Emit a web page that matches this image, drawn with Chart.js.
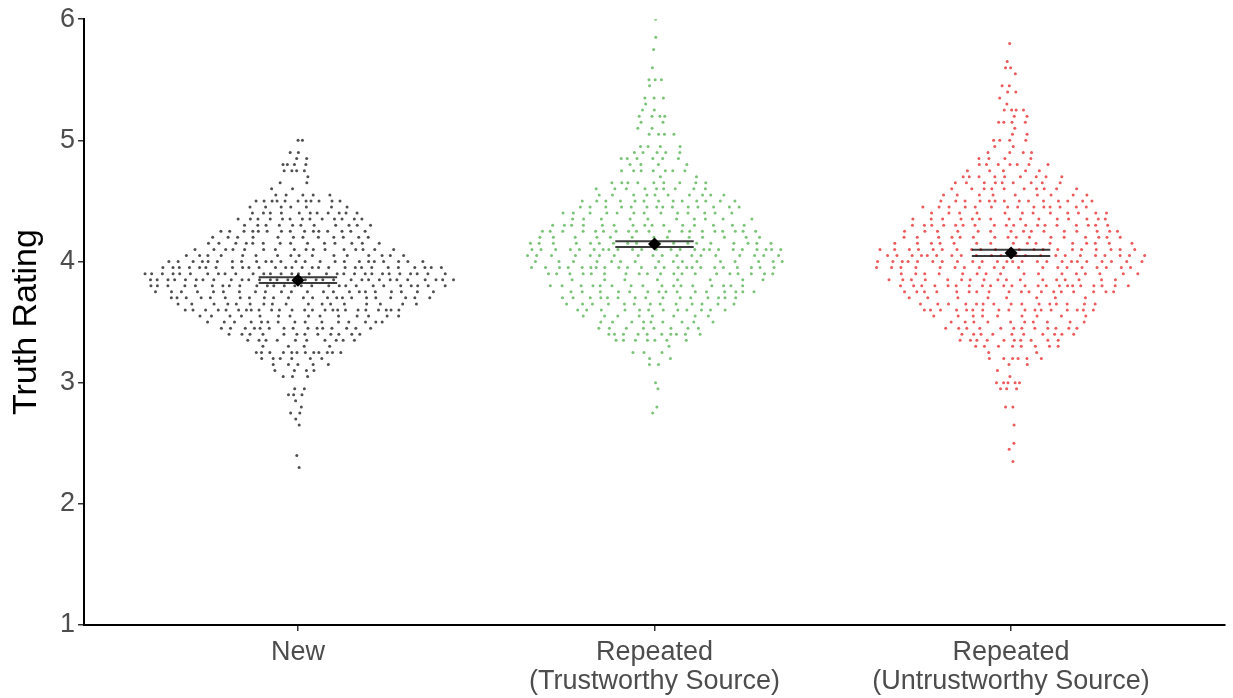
<!DOCTYPE html>
<html><head><meta charset="utf-8">
<script src="https://cdn.jsdelivr.net/npm/chart.js@4.4.1/dist/chart.umd.min.js"></script>
<style>html,body{margin:0;padding:0;background:#fff;overflow:hidden}#wrap{width:1233px;height:698px;}</style>
</head><body><div id="wrap"><canvas id="c" width="1233" height="698"></canvas></div>
<script>
// ---- data ----
const categories = [["New"], ["Repeated", "(Trustworthy Source)"], ["Repeated", "(Untrustworthy Source)"]];
const yTicks = [1, 2, 3, 4, 5, 6];
const yAxisTitle = "Truth Rating";

// discrete rating levels (rows of points), top to bottom
const ratingLevels = [6.00,5.95,5.90,5.85,5.80,5.75,5.70,5.65,5.60,5.55,5.50,5.45,5.40,5.35,5.30,5.25,5.20,5.15,5.10,5.05,
  5.00,4.95,4.90,4.85,4.80,4.75,4.70,4.65,4.60,4.55,4.50,4.45,4.40,4.35,4.30,4.25,4.20,4.15,4.10,4.05,
  4.00,3.95,3.90,3.85,3.80,3.75,3.70,3.65,3.60,3.55,3.50,3.45,3.40,3.35,3.30,3.25,3.20,3.15,3.10,3.05,
  3.00,2.95,2.90,2.85,2.80,2.75,2.70,2.65,2.60,2.55,2.50,2.45,2.40,2.35,2.30];

// number of participants at each rating level
const countsNew = [0,0,0,0,0,0,0,0,0,0,0,0,0,0,0,0,0,0,0,0,
  2,0,2,2,4,4,1,2,2,5,11,7,11,13,11,15,12,14,16,16,
  24,28,30,30,27,22,23,17,24,14,15,15,12,10,4,12,6,5,4,3,
  0,2,3,1,1,2,1,1,0,0,0,0,1,0,1];
const countsTrustworthy = [1,0,0,1,0,1,0,0,1,0,3,1,0,3,1,2,4,2,2,4,
  0,4,5,6,4,7,2,9,9,10,13,14,13,10,15,19,13,19,24,18,
  16,23,19,8,16,15,15,13,12,8,9,8,10,7,1,3,2,2,0,0,
  1,1,0,0,1,1,0,0,0,0,0,0,0,0,0];
const countsUntrustworthy = [0,0,0,0,1,0,0,1,2,1,0,2,2,1,1,4,2,4,1,2,
  4,2,4,4,7,5,9,9,10,9,14,14,12,15,18,15,16,16,21,22,
  24,19,16,17,22,18,8,15,17,9,10,12,10,10,8,2,6,2,1,1,
  5,3,0,0,2,0,0,1,0,0,1,1,0,1,0];

const groupMeans = [3.846, 4.144, 4.070];
const groupLower = [3.822, 4.120, 4.045];
const groupUpper = [3.870, 4.168, 4.097];

// ---- styling ----
const pointColors = ['rgba(20,20,20,0.75)', 'rgba(77,175,74,0.75)', 'rgba(228,26,28,0.72)'];
const FONT = '"Liberation Sans", Arial, Helvetica, sans-serif';

// sina-style layout: row half-width follows smoothed density of the counts
function smoothCounts(counts) {
  const s = 2.2;
  return counts.map((_, j) => {
    let d = 0;
    counts.forEach((c, k) => { d += c * Math.exp(-0.5 * ((j - k) / s) ** 2); });
    return d;
  });
}
const allCounts = [countsNew, countsTrustworthy, countsUntrustworthy];
const densities = allCounts.map(smoothCounts);
const groupMaxDens = densities.map(d => Math.max(...d));
const maxDens = Math.max(...groupMaxDens);
const maxHalfWidth = 0.44;
const PHI = 0.6180339887;

function swarmPoints(g) {
  const counts = allCounts[g], dens = densities[g], center = g + 1;
  const groupWidth = maxHalfWidth * Math.sqrt(groupMaxDens[g] / maxDens);
  const pts = [];
  counts.forEach((n, j) => {
    const w = groupWidth * dens[j] / groupMaxDens[g];
    for (let i = 0; i < n; i++) {
      const u = ((i + 1) * PHI + j * 0.3137 + g * 0.17) % 1;
      pts.push({ x: center + w * (2 * u - 1), y: ratingLevels[j] });
    }
  });
  return pts;
}

const datasets = [];
for (let g = 0; g < 3; g++) {
  datasets.push({
    type: 'scatter', data: swarmPoints(g), order: 3,
    pointRadius: 1.5, pointBorderWidth: 0, backgroundColor: pointColors[g], pointHoverRadius: 1.5
  });
}
for (let g = 0; g < 3; g++) {
  const c = g + 1, hw = 0.11;
  datasets.push({
    type: 'scatter', showLine: true, spanGaps: false, order: 2,
    data: [{x: c - hw, y: groupUpper[g]}, {x: c + hw, y: groupUpper[g]}, {x: c, y: null},
           {x: c - hw, y: groupLower[g]}, {x: c + hw, y: groupLower[g]}],
    borderColor: 'rgba(25,25,25,0.85)', borderWidth: 2, pointRadius: 0
  });
}
datasets.push({
  type: 'scatter', order: 1,
  data: groupMeans.map((m, g) => ({x: g + 1, y: m})),
  pointStyle: 'rectRot', pointRadius: 6.5, backgroundColor: '#000', borderColor: '#000', pointBorderWidth: 0
});

new Chart(document.getElementById('c'), {
  type: 'scatter',
  data: { datasets },
  options: {
    responsive: false, animation: false, devicePixelRatio: 1,
    layout: { padding: { top: 18, right: 8, left: 0, bottom: 0 } },
    plugins: { legend: { display: false }, tooltip: { enabled: false } },
    scales: {
      x: {
        type: 'linear', min: 0.4, max: 3.6,
        afterBuildTicks: (s) => { s.ticks = categories.map((_, i) => ({ value: i + 1 })); },
        afterFit: (s) => { s.height = 73; },
        ticks: { callback: (v) => categories[Math.round(v) - 1], color: '#4D4D4D', autoSkip: false, maxRotation: 0,
                 font: { family: FONT, size: 27, lineHeight: 1.08 }, padding: 7 },
        grid: { drawOnChartArea: false, drawTicks: true, tickLength: 6, color: '#333', lineWidth: 1.5 },
        border: { display: true, color: '#000', width: 2 }
      },
      y: {
        type: 'linear', min: 1, max: 6,
        afterBuildTicks: (s) => { s.ticks = yTicks.map(v => ({ value: v })); },
        afterFit: (s) => { s.width = 84; },
        ticks: { color: '#4D4D4D', font: { family: FONT, size: 27 }, padding: 3 },
        grid: { drawOnChartArea: false, drawTicks: true, tickLength: 6, color: '#333', lineWidth: 1.5 },
        border: { display: true, color: '#000', width: 2 },
        title: { display: true, text: yAxisTitle, color: '#000', font: { family: FONT, size: 34 }, padding: { top: 6, bottom: 0 } }
      }
    }
  }
});
</script></body></html>
